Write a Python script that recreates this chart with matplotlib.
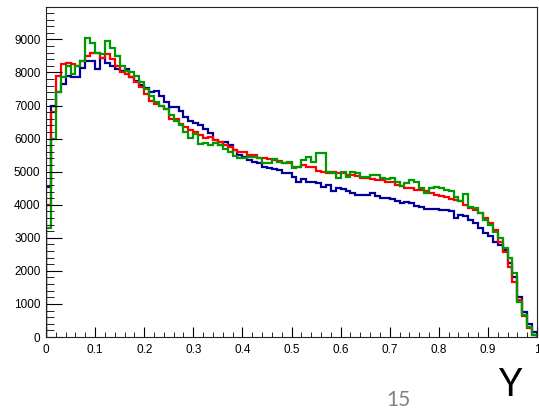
import numpy as np
import matplotlib.pyplot as plt
from matplotlib.ticker import MultipleLocator, FormatStrFormatter

# bin contents, 100 bins on [0, 1]
blue_counts = [4550, 7000, 7400, 7650, 7900, 7850, 7850, 8150, 8350, 8350,
               8100, 8450, 8300, 8200, 8100, 8050, 8100, 7850, 7750, 7620,
               7520, 7400, 7450, 7300, 7100, 6950, 6950, 6820, 6660, 6540,
               6480, 6410, 6280, 6160, 5960, 5810, 5910, 5810, 5660, 5500,
               5440, 5350, 5300, 5250, 5150, 5120, 5080, 5050, 4960, 4960,
               4850, 4700, 4780, 4700, 4680, 4650, 4550, 4600, 4430, 4500,
               4480, 4420, 4360, 4300, 4300, 4300, 4350, 4250, 4200, 4200,
               4170, 4100, 4040, 4080, 4050, 3960, 3920, 3860, 3880, 3880,
               3850, 3830, 3800, 3600, 3690, 3670, 3540, 3440, 3300, 3150,
               3050, 2880, 2780, 2630, 2230, 1820, 1220, 750, 400, 150]

red_counts = [4000, 6800, 7900, 8250, 8300, 8250, 8200, 8350, 8500, 8600,
              8600, 8450, 8550, 8400, 8200, 8000, 7950, 7850, 7700, 7550,
              7350, 7150, 7050, 7000, 6900, 6600, 6600, 6450, 6350, 6250,
              6200, 6100, 6020, 6050, 5950, 5900, 5820, 5750, 5650, 5600,
              5580, 5500, 5500, 5420, 5400, 5380, 5350, 5330, 5250, 5250,
              5150, 5150, 5200, 5150, 5150, 5020, 5000, 4960, 4980, 4960,
              4950, 4900, 4900, 4880, 4820, 4800, 4780, 4750, 4740, 4700,
              4680, 4600, 4580, 4500, 4500, 4460, 4440, 4420, 4350, 4300,
              4250, 4220, 4180, 4140, 4100, 4000, 3890, 3850, 3750, 3590,
              3440, 3230, 2880, 2580, 2130, 1670, 1120, 620, 280, 60]

green_counts = [3300, 6000, 7400, 7850, 8200, 7950, 8200, 8350, 9050, 8900,
                8600, 8550, 8950, 8750, 8500, 8200, 8050, 8000, 7900, 7700,
                7500, 7300, 7100, 7000, 6900, 6720, 6530, 6400, 6200, 6030,
                6150, 5850, 5860, 5820, 5860, 5820, 5700, 5600, 5480, 5400,
                5420, 5450, 5450, 5400, 5250, 5250, 5370, 5300, 5250, 5300,
                5100, 5150, 5350, 5450, 5300, 5550, 5550, 5000, 4960, 4800,
                5000, 4850, 5000, 4950, 4850, 4850, 4900, 4900, 4800, 4780,
                4800, 4680, 4580, 4650, 4750, 4700, 4500, 4350, 4500, 4550,
                4500, 4450, 4420, 4220, 4100, 4330, 3920, 3890, 3740, 3540,
                3390, 3180, 2990, 2680, 2380, 1930, 1070, 670, 310, 60]

edges = np.linspace(0.0, 1.0, len(blue_counts) + 1)

fig = plt.figure(figsize=(5.39, 4.16), dpi=100)
ax = fig.add_axes([46 / 539, 1 - 337 / 416, 491 / 539, 330 / 416])

# ROOT-like colours: kBlue+2, kRed, kGreen+2
ax.stairs(blue_counts, edges, color='#000099', lw=1.6)
ax.stairs(red_counts, edges, color='#ff0000', lw=1.6)
ax.stairs(green_counts, edges, color='#009900', lw=1.6)

ax.set_xlim(0, 1)
ax.set_ylim(0, 9980)

ax.xaxis.set_major_locator(MultipleLocator(0.1))
ax.xaxis.set_minor_locator(MultipleLocator(0.02))
ax.yaxis.set_major_locator(MultipleLocator(1000))
ax.yaxis.set_minor_locator(MultipleLocator(200))
ax.xaxis.set_major_formatter(FormatStrFormatter('%g'))

ax.tick_params(axis='both', which='both', direction='in', top=False,
               right=False, labelsize=8.5, colors='black')
ax.tick_params(axis='x', which='major', length=7.5, pad=5)
ax.tick_params(axis='x', which='minor', length=3.8)
ax.tick_params(axis='y', which='major', length=11.5, pad=4)
ax.tick_params(axis='y', which='minor', length=5.8)
for lab in ax.get_xticklabels() + ax.get_yticklabels():
    lab.set_family(['Liberation Sans', 'DejaVu Sans'])

for s in ax.spines.values():
    s.set_linewidth(0.8)
    s.set_color('#222222')

# slide decoration below the plot
fig.text(398 / 539, 1 - 400 / 416, '15', fontsize=15, color='#808080',
         ha='center', va='center', family=['Lato', 'DejaVu Sans'])
fig.text(511 / 539, 1 - 385 / 416, 'Y', fontsize=27, color='black',
         ha='center', va='center', family=['Lato', 'DejaVu Sans'])

fig.savefig('out.png', dpi=100)
